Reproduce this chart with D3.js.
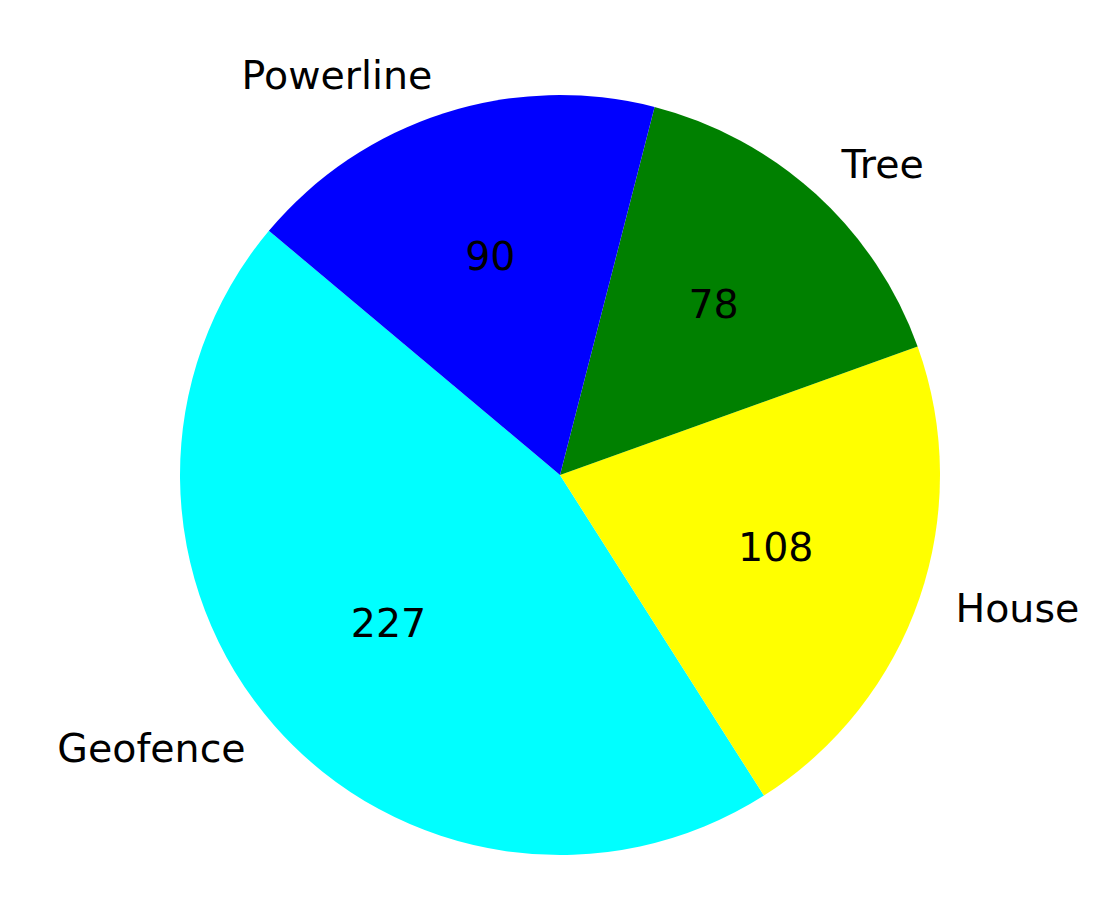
<!DOCTYPE html>
<html>
<head>
<meta charset="utf-8">
<script src="https://cdn.jsdelivr.net/npm/d3@7"></script>
<style>
  html, body { margin: 0; padding: 0; background: #fff; }
  svg { display: block; }
  text { font-family: "DejaVu Sans", sans-serif; }
</style>
</head>
<body>
<script>
const categories = ["Geofence", "House", "Tree", "Powerline"];
const values = [227, 108, 78, 90];
const colors = ["#00ffff", "#ffff00", "#008000", "#0000ff"];

const W = 1119, H = 909;
const cx = 560, cy = 475, R = 380;
const startDeg = 140; // matplotlib-style start angle, counterclockwise
const fontSize = 39.5;

const svg = d3.select("body").append("svg").attr("width", W).attr("height", H);
svg.append("rect").attr("width", W).attr("height", H).attr("fill", "#fff");

const toRad = d => d * Math.PI / 180;
const a0 = toRad(90 - startDeg);
const pie = d3.pie().sort(null).value(d => d).startAngle(a0).endAngle(a0 - 2 * Math.PI);
const arcsData = pie(values);

const g = svg.append("g").attr("transform", `translate(${cx},${cy})`);
const arc = d3.arc().innerRadius(0).outerRadius(R);

g.selectAll("path.slice").data(arcsData).join("path")
  .attr("class", "slice")
  .attr("d", arc)
  .attr("fill", (d, i) => colors[i]);

const labelArc = d3.arc().innerRadius(R * 1.1).outerRadius(R * 1.1);
const pctArc = d3.arc().innerRadius(R * 0.6).outerRadius(R * 0.6);

g.selectAll("text.label").data(arcsData).join("text")
  .attr("class", "label")
  .attr("x", d => labelArc.centroid(d)[0])
  .attr("y", d => labelArc.centroid(d)[1] + fontSize * 0.3)
  .attr("text-anchor", d => labelArc.centroid(d)[0] < 0 ? "end" : "start")
  .attr("font-size", fontSize)
  .attr("fill", "#000")
  .text((d, i) => categories[i]);

g.selectAll("text.val").data(arcsData).join("text")
  .attr("class", "val")
  .attr("x", d => pctArc.centroid(d)[0])
  .attr("y", d => pctArc.centroid(d)[1] + fontSize * 0.3)
  .attr("text-anchor", "middle")
  .attr("font-size", fontSize)
  .attr("fill", "#000")
  .text((d, i) => values[i]);
</script>
</body>
</html>
